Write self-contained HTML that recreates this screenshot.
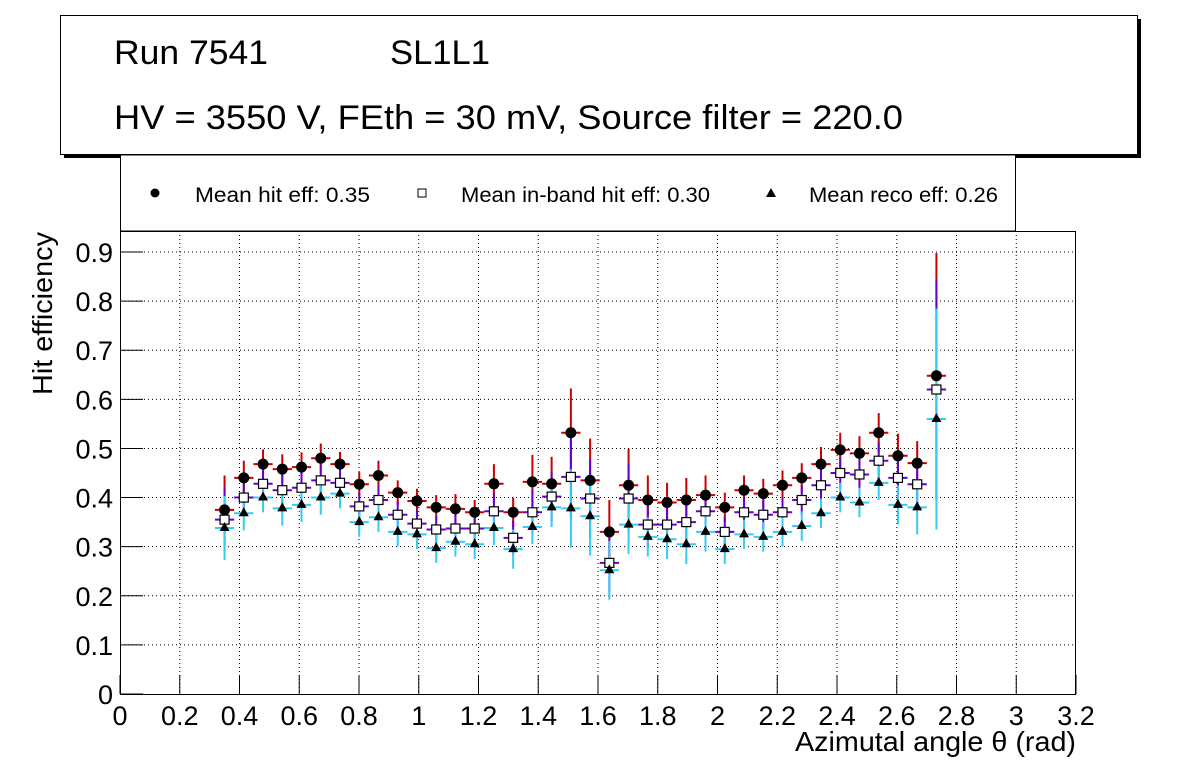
<!DOCTYPE html>
<html><head><meta charset="utf-8"><style>
body{margin:0;background:#fff;}
svg{display:block;font-family:"Liberation Sans",sans-serif;}
</style></head><body>
<svg id="c" width="1196" height="772">
<rect x="0" y="0" width="1196" height="772" fill="#fff"/>
<g>
<rect x="64" y="19" width="1077" height="139" fill="#000"/>
<rect x="60.5" y="15.5" width="1077" height="139" fill="#fff" stroke="#000" stroke-width="1"/>
<text x="114" y="64" font-size="34" textLength="154" lengthAdjust="spacingAndGlyphs">Run 7541</text>
<text x="390" y="64" font-size="34" textLength="100" lengthAdjust="spacingAndGlyphs">SL1L1</text>
<text x="114" y="129" font-size="34" textLength="789" lengthAdjust="spacingAndGlyphs">HV = 3550 V, FEth = 30 mV, Source filter = 220.0</text>
</g>
<g>
<rect x="120.5" y="155" width="895" height="76" fill="#fff" stroke="#000" stroke-width="1"/>
<circle cx="155" cy="193" r="4.5" fill="#000"/>
<text x="195" y="202" font-size="21" textLength="175" lengthAdjust="spacingAndGlyphs">Mean hit  eff: 0.35</text>
<rect x="418" y="189" width="8" height="8" fill="#fff" stroke="#000"/>
<text x="461" y="202" font-size="21" textLength="249" lengthAdjust="spacingAndGlyphs">Mean in-band hit eff: 0.30</text>
<polygon points="771,188 776,197 766,197" fill="#000"/>
<text x="809" y="202" font-size="21" textLength="189" lengthAdjust="spacingAndGlyphs">Mean reco eff: 0.26</text>
</g>
<g id="grid"></g>
<g id="axes"></g>
<g id="marks"></g>
<text x="1076" y="751" font-size="28" text-anchor="end" textLength="281" lengthAdjust="spacingAndGlyphs">Azimutal angle θ (rad)</text>
<text transform="translate(52,232) rotate(-90)" font-size="28" text-anchor="end" textLength="163" lengthAdjust="spacingAndGlyphs">Hit efficiency</text>
</svg>
<script>
const xStart = 0.35, xStep = 0.0644;
const hitVals = [0.375,0.44,0.468,0.458,0.462,0.48,0.468,0.427,0.445,0.41,0.393,0.38,0.377,0.37,0.428,0.37,0.432,0.428,0.532,0.435,0.33,0.425,0.395,0.39,0.395,0.405,0.38,0.415,0.408,0.425,0.44,0.468,0.497,0.49,0.532,0.485,0.47,0.648];
const hitErr = [0.07,0.035,0.03,0.03,0.03,0.03,0.025,0.025,0.03,0.025,0.025,0.025,0.03,0.025,0.04,0.03,0.055,0.055,0.09,0.085,0.065,0.075,0.05,0.04,0.045,0.04,0.03,0.03,0.03,0.03,0.03,0.035,0.035,0.035,0.04,0.045,0.045,0.25];
const bandVals = [0.355,0.40,0.428,0.415,0.42,0.435,0.43,0.382,0.395,0.365,0.347,0.335,0.337,0.337,0.372,0.318,0.37,0.402,0.442,0.398,0.267,0.398,0.345,0.345,0.35,0.372,0.33,0.37,0.365,0.37,0.395,0.425,0.45,0.447,0.475,0.44,0.427,0.62];
const bandErr = [0.065,0.035,0.03,0.032,0.032,0.032,0.027,0.027,0.03,0.027,0.027,0.027,0.03,0.027,0.037,0.035,0.045,0.05,0.085,0.08,0.06,0.07,0.045,0.04,0.042,0.04,0.03,0.03,0.03,0.03,0.03,0.032,0.032,0.032,0.037,0.042,0.05,0.225];
const recoVals = [0.338,0.368,0.40,0.378,0.385,0.40,0.408,0.35,0.36,0.33,0.325,0.297,0.31,0.305,0.338,0.295,0.34,0.38,0.378,0.362,0.252,0.345,0.32,0.315,0.305,0.33,0.295,0.325,0.32,0.33,0.342,0.368,0.40,0.39,0.43,0.385,0.38,0.56];
const recoErr = [0.065,0.035,0.03,0.035,0.035,0.035,0.03,0.03,0.03,0.03,0.03,0.03,0.03,0.03,0.035,0.04,0.035,0.04,0.08,0.08,0.06,0.06,0.04,0.04,0.04,0.04,0.03,0.03,0.03,0.03,0.03,0.03,0.03,0.03,0.035,0.04,0.055,0.225];
const xTicks = [0,0.2,0.4,0.6,0.8,1,1.2,1.4,1.6,1.8,2,2.2,2.4,2.6,2.8,3,3.2];
const xTickLabels = ["0","0.2","0.4","0.6","0.8","1","1.2","1.4","1.6","1.8","2","2.2","2.4","2.6","2.8","3","3.2"];
const yTicks = [0,0.1,0.2,0.3,0.4,0.5,0.6,0.7,0.8,0.9];
const yTickLabels = ["0","0.1","0.2","0.3","0.4","0.5","0.6","0.7","0.8","0.9"];

const X0=120,X1=1076,Y0=694,Y1=231;
const sx=v=>X0+(v-0)/(3.2)*(X1-X0);
const sy=v=>Y0-(v/0.9)*(694-252);
const NS="http://www.w3.org/2000/svg";
function mk(tag,attrs,parent){const e=document.createElementNS(NS,tag);for(const k in attrs)e.setAttribute(k,attrs[k]);parent.appendChild(e);return e;}
const grid=document.getElementById('grid'),axes=document.getElementById('axes'),marks=document.getElementById('marks');

xTicks.forEach((t,i)=>{
  const x=sx(t);
  if(t>0&&t<3.2){const g=mk('line',{x1:x,x2:x,y1:Y1,y2:Y0,stroke:'#000','stroke-width':1,'stroke-dasharray':'1,3'},grid);
  
  }
  const tk=mk('line',{x1:x,x2:x,y1:Y0,y2:Y0-19,stroke:'#000','stroke-width':1},axes);
  
  
  const lb=mk('text',{x:x,y:725,'font-size':27,'text-anchor':'middle'},axes);lb.textContent=xTickLabels[i];
  
  
});
yTicks.forEach((t,i)=>{
  const y=sy(t);
  if(t>0){const g=mk('line',{x1:X0,x2:X1,y1:y,y2:y,stroke:'#000','stroke-width':1,'stroke-dasharray':'1,3'},grid);
  
  }
  const tk=mk('line',{x1:X0,x2:X0+23,y1:y,y2:y,stroke:'#000','stroke-width':1},axes);
  
  
  const lb=mk('text',{x:113,y:y+10,'font-size':27,'text-anchor':'end'},axes);lb.textContent=yTickLabels[i];
  
  
});
const fr=mk('rect',{x:X0+0.5,y:Y1+0.5,width:X1-X0-1,height:Y0-Y1,fill:'none',stroke:'#000','stroke-width':1},axes);



function errs(vals,err,color,name){
  vals.forEach((v,i)=>{
    const xc=xStart+i*xStep, x=sx(xc);
    const l=mk('line',{x1:x,x2:x,y1:sy(v+err[i]),y2:sy(v-err[i]),stroke:color,'stroke-width':2},marks);
    
    
    const h=mk('line',{x1:sx(xc-xStep/2),x2:sx(xc+xStep/2),y1:sy(v),y2:sy(v),stroke:color,'stroke-width':2},marks);
    
    
  });
}
errs(hitVals,hitErr,'#cc0000','hit');
errs(bandVals,bandErr,'#6600cc','inband');
errs(recoVals,recoErr,'#33ccf5','reco');
hitVals.forEach((v,i)=>{const x=sx(xStart+i*xStep);
  const c=mk('circle',{cx:x,cy:sy(v),r:5.5,fill:'#000'},marks);
  
  });
bandVals.forEach((v,i)=>{const x=sx(xStart+i*xStep);
  const r=mk('rect',{x:x-4.5,y:sy(v)-4.5,width:9,height:9,fill:'#fff',stroke:'#000','stroke-width':1.2},marks);
  
  });
recoVals.forEach((v,i)=>{const x=sx(xStart+i*xStep),y=sy(v);
  const p=mk('polygon',{points:`${x},${y-6} ${x+5},${y+3} ${x-5},${y+3}`,fill:'#000'},marks);
  
  });
</script>
</body></html>
